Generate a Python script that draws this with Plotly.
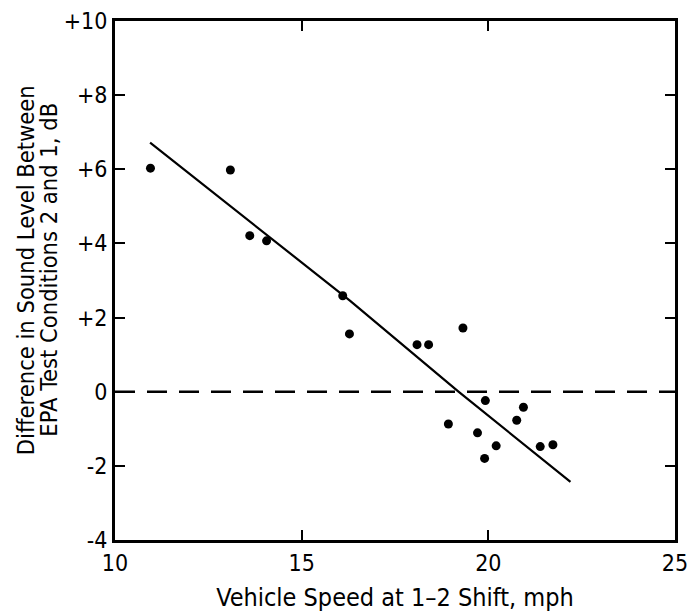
import plotly.graph_objects as go

speed = [10.95, 13.09, 13.61, 14.06, 16.10, 16.28, 18.09, 18.40, 19.32, 18.93,
         19.92, 19.71, 19.90, 20.21, 20.76, 20.94, 21.39, 21.73]
diff = [6.03, 5.98, 4.21, 4.07, 2.59, 1.56, 1.27, 1.27, 1.72, -0.87,
        -0.24, -1.11, -1.80, -1.46, -0.77, -0.42, -1.48, -1.43]

fit_x = [10.94, 16.3, 19.2, 22.2]
fit_y = [6.72, 2.45, 0.0, -2.43]

x_ticks = [10, 15, 20, 25]
y_ticks = [-4, -2, 0, 2, 4, 6, 8, 10]
y_tick_text = ["-4", "-2", "0", "+2", "+4", "+6", "+8", "+10"]

y_title_lines = ["Difference in Sound Level Between", "EPA Test Conditions 2 and 1, dB"]
x_title = "Vehicle Speed at 1\u20132 Shift, mph"

FONT = "DejaVu Sans Condensed, DejaVu Sans, sans-serif"

fig = go.Figure()
fig.add_trace(go.Scatter(x=[10, 25], y=[0, 0], mode="lines",
                         line=dict(color="black", width=2.5, dash="20px,12px"),
                         hoverinfo="skip", showlegend=False))
fig.add_trace(go.Scatter(x=fit_x, y=fit_y, mode="lines",
                         line=dict(color="black", width=2.2), showlegend=False))
fig.add_trace(go.Scatter(x=speed, y=diff, mode="markers",
                         marker=dict(color="black", size=9), showlegend=False))

axis_common = dict(showline=True, linecolor="black", linewidth=3, mirror="ticks",
                   ticks="inside", ticklen=10, tickwidth=2, tickcolor="black",
                   showgrid=False, zeroline=False, ticklabeloverflow="allow",
                   tickfont=dict(family=FONT, size=23, color="black"))

fig.update_xaxes(range=[10, 25], tickvals=x_ticks, ticktext=[str(v) for v in x_ticks],
                 title=dict(text=x_title,
                            font=dict(family=FONT, size=25, color="black"), standoff=14),
                 **axis_common)
fig.update_yaxes(range=[-4, 10], tickvals=y_ticks, ticktext=y_tick_text,
                 **axis_common)

for line, xpx in zip(y_title_lines, [24, 48]):
    fig.add_annotation(xref="paper", yref="paper", x=(xpx - 115) / 573, y=0.52,
                       text=line, textangle=-90, showarrow=False,
                       xanchor="center", yanchor="middle",
                       font=dict(family=FONT, size=23.5, color="black"))

fig.update_layout(width=696, height=615, plot_bgcolor="white", paper_bgcolor="white",
                  margin=dict(l=115, r=8, t=16, b=70))

fig.write_html("out.html")
